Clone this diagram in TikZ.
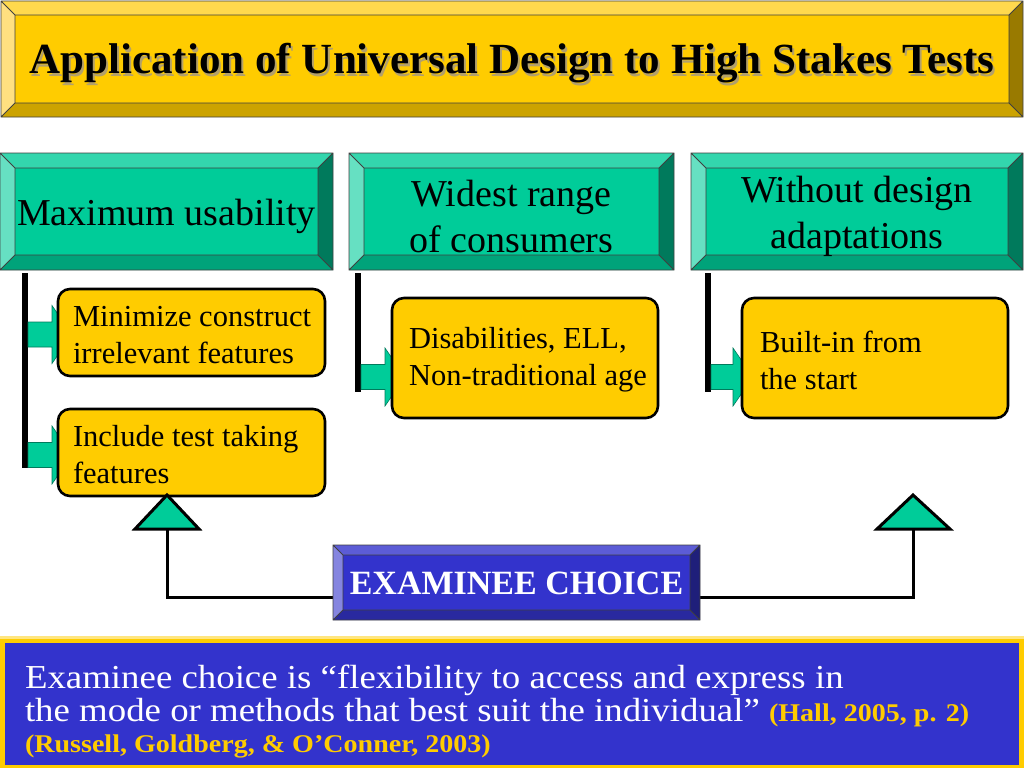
\documentclass[tikz,border=0pt]{standalone}
\usepackage{fontspec}
\setmainfont{Liberation Serif}
\newfontfamily\wideserif[FakeStretch=1.1]{Liberation Serif}
\usetikzlibrary{calc}
\definecolor{gold}{HTML}{FFCC00}
\definecolor{goldtop}{HTML}{FFD94D}
\definecolor{goldleft}{HTML}{FFE080}
\definecolor{goldbot}{HTML}{CCA300}
\definecolor{goldright}{HTML}{997A00}
\definecolor{lightgold}{HTML}{FFE680}
\definecolor{tealc}{HTML}{00CC99}
\definecolor{tealtop}{HTML}{33D6AD}
\definecolor{tealleft}{HTML}{66E0C2}
\definecolor{tealbot}{HTML}{00A37A}
\definecolor{tealright}{HTML}{007A5C}
\definecolor{bluec}{HTML}{3333CC}
\definecolor{bluetop}{HTML}{5C5CD6}
\definecolor{blueleft}{HTML}{8585E0}
\definecolor{bluebot}{HTML}{29299F}
\definecolor{blueright}{HTML}{1F1F7A}
\definecolor{shadowc}{HTML}{B3A06A}
\newcommand\setfs[2]{\fontsize{#1}{#2}\selectfont}
\newcommand\bevelfill[8]{%
 \coordinate (#1-a) at (#1.north west);
 \coordinate (#1-b) at (#1.north east);
 \coordinate (#1-c) at (#1.south east);
 \coordinate (#1-d) at (#1.south west);
 \coordinate (#1-ia) at ($(#1-a)+(#2,#2)$);
 \coordinate (#1-ib) at ($(#1-b)+(-#2,#2)$);
 \coordinate (#1-ic) at ($(#1-c)+(-#2,-#2)$);
 \coordinate (#1-id) at ($(#1-d)+(#2,-#2)$);
 \fill[#4] (#1-a) -- (#1-b) -- (#1-ib) -- (#1-ia) -- cycle;
 \fill[#5] (#1-a) -- (#1-ia) -- (#1-id) -- (#1-d) -- cycle;
 \fill[#6] (#1-d) -- (#1-id) -- (#1-ic) -- (#1-c) -- cycle;
 \fill[#7] (#1-b) -- (#1-c) -- (#1-ic) -- (#1-ib) -- cycle;
 \fill[#3] (#1-ia) rectangle (#1-ic);
 \draw[#8, line width=0.8pt] (#1-a) rectangle (#1-c) (#1-ia) rectangle (#1-ic)
   (#1-a) -- (#1-ia) (#1-b) -- (#1-ib) (#1-c) -- (#1-ic) (#1-d) -- (#1-id);
}
\newcommand\blockarrow[2]{% #1 start coordinate, #2 shaft length
 \draw[blockarr] ($(#1)+(0,-12.5)$) -- ++(#2,0) -- ++(0,-16.5) -- ++(20,29)
   -- ++(-20,29) -- ++(0,-16.5) -- ++(-#2,0) -- cycle;
}
\newcommand\shadowed[1]{\makebox[0pt][l]{\hspace{2pt}\raisebox{-2pt}{\color{shadowc}#1}}#1}
\begin{document}
\begin{tikzpicture}[x=1pt,y=-1pt,
  every node/.style={inner sep=0pt, outer sep=0pt},
  bevelshape/.style={rectangle},
  titletxt/.style={font=\setfs{43}{50}\bfseries, anchor=base},
  tealtxt/.style={font=\setfs{38}{46}, align=center},
  ybox/.style={rectangle, rounded corners=12pt, fill=gold, draw=black, line width=2.6pt},
  ytxt/.style={font=\setfs{30.5}{37}, align=left, anchor=west},
  exbtxt/.style={font=\setfs{34}{40}\bfseries, text=white},
  quotetxt/.style={font=\wideserif\setfs{33.5}{32}, text=white, anchor=base west},
  citetxt/.style={font=\wideserif\bfseries\setfs{25.5}{32}, text=gold},
  barline/.style={line width=6pt, black},
  connline/.style={line width=3pt, black},
  tri/.style={fill=tealc, draw=black, line width=3pt, line join=miter},
  blockarr/.style={fill=tealc, draw=tealright, line width=0.6pt}]
\useasboundingbox (0,0) rectangle (1024,768);
\fill[white] (0,0) rectangle (1024,768);

% title
\node[bevelshape, minimum width=1022pt, minimum height=116pt] (title) at (512,59) {};
\bevelfill{title}{14}{gold}{goldtop}{goldleft}{goldbot}{goldright}{black!75}
\node[titletxt] (titlel) at (512,74) {\shadowed{Application of Universal Design to High Stakes Tests}};

% teal boxes
\node[bevelshape, minimum width=333pt, minimum height=117pt] (t1) at (166.5,211.5) {};
\bevelfill{t1}{15}{tealc}{tealtop}{tealleft}{tealbot}{tealright}{black!75}
\node[tealtxt] (t1l) at ([yshift=-5pt]t1.center) {Maximum usability};
\node[bevelshape, minimum width=325pt, minimum height=117pt] (t2) at (511.5,211.5) {};
\bevelfill{t2}{15}{tealc}{tealtop}{tealleft}{tealbot}{tealright}{black!75}
\node[tealtxt] (t2l) at ([yshift=-5pt]t2.center) {Widest range\\of consumers};
\node[bevelshape, minimum width=332pt, minimum height=117pt] (t3) at (857,211.5) {};
\bevelfill{t3}{15}{tealc}{tealtop}{tealleft}{tealbot}{tealright}{black!75}
\node[tealtxt] (t3l) at ([yshift=-5pt]t3.center) {Without design\\adaptations};

% bars
\draw[barline] (25,273) -- (25,468);
\draw[barline] (358,273) -- (358,392);
\draw[barline] (708,273) -- (708,392);

% block arrows
\coordinate (a1s) at (28,334.5);
\coordinate (a2s) at (28,455);
\coordinate (a3s) at (361,377);
\coordinate (a4s) at (711,377);
\blockarrow{a1s}{24}
\blockarrow{a2s}{24}
\blockarrow{a3s}{24}
\blockarrow{a4s}{22}

% yellow boxes
\node[ybox, minimum width=267pt, minimum height=87pt] (ya) at (191.5,332.5) {};
\node[ytxt] (yal) at (73,335) {Minimize construct\\irrelevant features};
\node[ybox, minimum width=267pt, minimum height=87pt] (yb) at (191.5,452.5) {};
\node[ytxt] (ybl) at (73,455) {Include test taking\\features};
\node[ybox, minimum width=266pt, minimum height=120pt] (yc) at (525,358) {};
\node[ytxt] (ycl) at (409,360) {Disabilities, ELL,\\Non-traditional age};
\node[ybox, minimum width=266pt, minimum height=120pt] (yd) at (875,358) {};
\node[ytxt] (ydl) at (760,360) {Built-in from\\the start};

% connectors to triangles
\coordinate (tlb) at (167,529);
\coordinate (trb) at (913,529);
\coordinate (ecl) at (333,597);
\coordinate (ecr) at (700,597);
\draw[connline] (ecl) -| (tlb);
\draw[connline] (ecr) -| (trb);
\draw[tri] (135,529) -- (167,495) -- (199,529) -- cycle;
\draw[tri] (877,529) -- (913,495) -- (950,529) -- cycle;

% examinee choice
\node[bevelshape, minimum width=367pt, minimum height=75pt] (ec) at (516.5,582.5) {};
\bevelfill{ec}{10}{bluec}{bluetop}{blueleft}{bluebot}{blueright}{black!75}
\node[exbtxt] (ecl2) at ([yshift=-1pt]ec.center) {EXAMINEE CHOICE};

% bottom quote box
\node[rectangle, fill=gold, minimum width=1024pt, minimum height=132pt] (quote) at (512,702) {};
\fill[lightgold] (quote.north west) rectangle ($(quote.north east)+(0,3)$);
\fill[bluec] ($(quote.north west)+(5,7)$) rectangle ($(quote.south east)+(-5,-3)$);
\node[quotetxt] (q1) at (25,688) {Examinee choice is “flexibility to access and express in};
\node[quotetxt] (q2) at (25,721) {the mode or methods that best suit the individual” {\bfseries\color{gold}\setfs{25.5}{32}(Hall, 2005, p. 2)}};
\node[citetxt, anchor=base west] (q3) at (25,752) {(Russell, Goldberg, \& O’Conner, 2003)};
\end{tikzpicture}
\end{document}
